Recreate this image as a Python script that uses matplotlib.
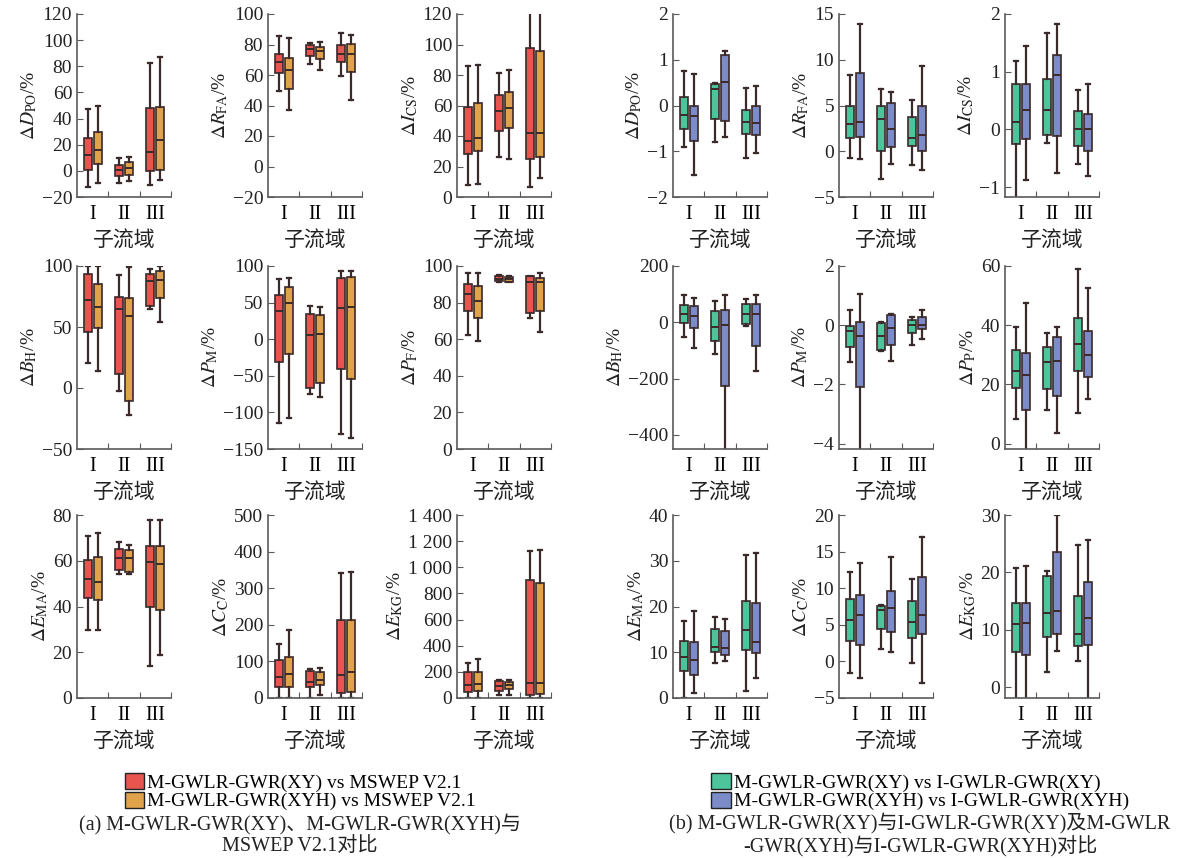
import matplotlib.pyplot as plt
from matplotlib.patches import Patch
from matplotlib.ticker import FuncFormatter

plt.rcParams['font.family'] = ['Liberation Serif', 'Noto Sans CJK SC']
plt.rcParams['mathtext.fontset'] = 'stix'

# ───────────────────────────────
# data: (whislo, q1, med, q3, whishi) for sub-basins I, II, III
groups = ['I', 'II', 'III']

# (a) M-GWLR-GWR vs MSWEP V2.1
dpo_xy = [(-12, 1, 12, 25, 47.6), (-9, -4, 0.3, 4.6, 10), (-10.5, 0, 14.3, 48, 82.5)]
dpo_xyh = [(-9.4, 5.6, 16, 30, 50), (-8, -2.8, 2.3, 7, 10.5), (-7, 1, 23.4, 48.7, 87)]
rfa_xy = [(49.3, 61.5, 68.3, 74, 85.5), (67.5, 72.5, 77, 80, 81), (59.5, 68.3, 73.6, 80, 87.7)]
rfa_xyh = [(37, 50.9, 63.4, 71, 84), (63.4, 70.3, 76, 78.4, 81.5), (43.6, 61.7, 73.6, 80.6, 86)]
ics_xy = [(7.6, 28.4, 36.7, 59, 86), (26.4, 43.2, 56.3, 67, 81), (6.5, 25, 42, 97.4, 125)]
ics_xyh = [(8.3, 30, 38.9, 61.6, 86.7), (25, 45, 58.5, 68.8, 83), (12.6, 26, 42, 95.6, 125)]
bh_xy = [(20.5, 45.5, 72.3, 93.5, 100), (-2.7, 11.7, 64.6, 75, 92.7), (65, 67.4, 88, 93.5, 97.6)]
bh_xyh = [(14, 49, 66, 85, 100), (-21.8, -11, 59, 73.6, 99), (54.5, 73.6, 88.6, 96, 100)]
pm_xy = [(-114.5, -31.8, 38.6, 60.5, 81.8), (-74.5, -66.8, 6, 34.5, 46), (-129.5, -41, 43, 83, 93.6)]
pm_xyh = [(-107.7, -20.5, 50, 71, 83), (-79.5, -60, 7.3, 33, 44.5), (-135, -54.5, 44.5, 84.5, 93.6)]
pf_xy = [(62.4, 75.6, 84.5, 90.2, 96), (91.5, 92, 93, 94.5, 95), (71.5, 74.5, 91, 94.5, 94.6)]
pf_xyh = [(59, 71.5, 81, 89, 96), (91, 91.3, 92.7, 94, 94.6), (64, 75.5, 91, 93.3, 96)]
ema_xy = [(29.8, 43.5, 51.9, 60.3, 71), (54.2, 55.8, 61.2, 65, 68.2), (14, 39.6, 59.5, 66.3, 78)]
ema_xyh = [(29.8, 42.7, 50.8, 61.7, 72), (54.2, 55, 61.2, 64.5, 67), (19, 38.5, 58.4, 66.3, 78)]
cc_xy = [(0, 30, 57, 104.5, 148), (0, 30, 43.6, 72.7, 80), (0, 13.6, 63.6, 212, 342)]
cc_xyh = [(0, 30, 64.5, 112, 185), (7, 36, 48, 71, 82), (0, 16, 71, 212, 345)]
ekg_xy = [(0, 46, 96, 197, 268), (20, 51, 89, 127, 134), (0, 25, 114, 906, 1122)]
ekg_xyh = [(0, 51, 109, 202, 299), (25, 66, 96, 122, 134), (0, 33, 114, 876, 1134)]

# (b) M-GWLR-GWR vs I-GWLR-GWR
dpo_m_xy = [(-0.9, -0.52, -0.2, 0.18, 0.76), (-0.79, -0.3, 0.36, 0.47, 0.49), (-1.14, -0.63, -0.36, -0.09, 0.39)]
dpo_m_xyh = [(-1.53, -0.78, -0.23, 0.0, 0.68), (-0.69, -0.34, 0.51, 1.11, 1.2), (-1.03, -0.65, -0.39, -0.01, 0.42)]
rfa_m_xy = [(-0.73, 1.45, 3, 5, 8.3), (-3, 0.07, 3.56, 5, 6.8), (-1.45, 0.55, 1.5, 3.7, 5.6)]
rfa_m_xyh = [(-0.9, 1.6, 3.2, 8.55, 13.9), (-1.4, 0.44, 2.4, 5.3, 6.5), (-2, 0, 1.75, 5, 9.3)]
ics_m_xy = [(-1.3, -0.26, 0.13, 0.79, 1.18), (-0.23, -0.1, 0.34, 0.88, 1.67), (-0.6, -0.28, 0.01, 0.32, 0.69)]
ics_m_xyh = [(-0.88, -0.16, 0.34, 0.79, 1.45), (-0.75, -0.12, 0.94, 1.29, 1.82), (-0.8, -0.38, 0, 0.26, 0.79)]
bh_m_xy = [(-50.6, -3.5, 29, 62, 97.6), (-112, -68, -15, 38.8, 76.5), (-12, -6, 29.4, 64.7, 82)]
bh_m_xyh = [(-92, -21, 22, 59, 88), (-470, -227, -8, 43.5, 97.6), (-174, -85, 29.4, 64.7, 97.6)]
pm_m_xy = [(-1.24, -0.72, -0.2, -0.01, 0.53), (-0.87, -0.83, -0.38, 0.09, 0.12), (-0.66, -0.25, 0, 0.19, 0.29)]
pm_m_xyh = [(-4.5, -2.08, -0.35, 0.1, 1.05), (-1.22, -0.67, -0.11, 0.36, 0.38), (-0.46, -0.12, 0.01, 0.27, 0.51)]
pf_m_xy = [(8.3, 18.9, 24.7, 31.5, 39.4), (11.5, 18.5, 27.5, 32.5, 37.5), (10.5, 24.5, 33.5, 42.5, 59)]
pf_m_xyh = [(-3, 11.3, 23.2, 30.6, 47.5), (3.5, 16, 28, 36, 39.5), (15, 22.5, 30, 38, 52.5)]
ema_m_xy = [(0, 5.9, 8.9, 12.5, 16.9), (7.7, 10, 11.1, 15.1, 17.8), (1.5, 10.4, 14.9, 21.3, 31.2)]
ema_m_xyh = [(1.1, 5.1, 8.3, 12.2, 19), (8, 9.3, 10.9, 14.6, 17.2), (4.3, 9.9, 12.3, 20.8, 31.6)]
cc_m_xy = [(-1.6, 2.8, 5.7, 8.5, 12.2), (1.7, 4.4, 7.0, 7.6, 7.7), (-0.2, 3.2, 5.35, 8.3, 11.3)]
cc_m_xyh = [(-2.3, 2.3, 6.3, 9.1, 13.5), (1.3, 4.0, 7.3, 9.6, 14.3), (-3, 3.8, 6.35, 11.5, 17)]
ekg_m_xy = [(-3, 6.2, 11, 14.6, 20.8), (2.7, 8.7, 13, 19.3, 20.2), (4.6, 7.2, 9.3, 15.9, 24.7)]
ekg_m_xyh = [(-3, 5.6, 11.2, 14.6, 21.1), (6.3, 9.3, 13.3, 23.5, 30), (-3, 7.4, 12, 18.3, 25.7)]

# ───────────────────────────────
# style
RED, ORANGE = '#E8554F', '#E0A24A'
GREEN, BLUE = '#4EC49C', '#7B8CC8'
EDGE = '#3B2A2A'
AXC = '#5A5A5A'
TXT = '#222222'

fig = plt.figure(figsize=(12, 8.58), dpi=100)

col_x = [77, 268, 457, 673, 839, 1005]
row_y = [14, 266, 515]
W, H = 94, 183


def make_ax(r, c):
    x0 = col_x[c] / 1200
    y0 = 1 - (row_y[r] + H) / 858
    return fig.add_axes([x0, y0, W / 1200, H / 858])


def draw(ax, s1, s2, c1, c2, ylabel, ylim, yticks, fmt=None):
    for data, off, col in ((s1, -0.16, c1), (s2, 0.16, c2)):
        stats = [dict(whislo=d[0], q1=d[1], med=d[2], q3=d[3], whishi=d[4]) for d in data]
        ax.bxp(stats, positions=[i + 1 + off for i in range(len(data))], widths=0.25,
               showfliers=False, patch_artist=True, manage_ticks=False,
               boxprops=dict(facecolor=col, edgecolor=EDGE, linewidth=1.2),
               medianprops=dict(color=EDGE, linewidth=1.4),
               whiskerprops=dict(color=EDGE, linewidth=1.6),
               capprops=dict(color=EDGE, linewidth=1.6))
    ax.set_xlim(0.5, 3.5)
    ax.set_ylim(*ylim)
    ax.set_yticks(yticks)
    if fmt:
        ax.yaxis.set_major_formatter(FuncFormatter(fmt))
    ax.set_xticks([1.5, 2.5, 3.5])
    ax.set_xticklabels([])
    ax.set_xticks([1, 2, 3], minor=True)
    ax.set_xticklabels(groups, minor=True)
    ax.tick_params(axis='x', which='minor', length=0, labelsize=14.5, pad=6)
    ax.tick_params(axis='both', which='major', direction='in', length=4, color=AXC,
                   labelsize=14, labelcolor=TXT)
    for s in ('top', 'right'):
        ax.spines[s].set_visible(False)
    for s in ('left', 'bottom'):
        ax.spines[s].set_color(AXC)
        ax.spines[s].set_linewidth(1.2)
    ax.set_ylabel(ylabel, fontsize=14, labelpad=2, color=TXT)
    ax.set_xlabel('子流域', fontsize=15, labelpad=5, color=TXT)


def thousands(v, pos):
    v = int(round(v))
    return f'{v // 1000} {v % 1000:03d}' if v >= 1000 else str(v)


def rng(a, b, s):
    out, v = [], a
    while v <= b + 1e-9:
        out.append(v)
        v += s
    return out


# (a) panels
draw(make_ax(0, 0), dpo_xy, dpo_xyh, RED, ORANGE, r'$\Delta D_{\rm PO}$/%', (-20, 120), rng(-20, 120, 20))
draw(make_ax(0, 1), rfa_xy, rfa_xyh, RED, ORANGE, r'$\Delta R_{\rm FA}$/%', (-20, 100), rng(-20, 100, 20))
draw(make_ax(0, 2), ics_xy, ics_xyh, RED, ORANGE, r'$\Delta I_{\rm CS}$/%', (0, 120), rng(0, 120, 20))
draw(make_ax(1, 0), bh_xy, bh_xyh, RED, ORANGE, r'$\Delta B_{\rm H}$/%', (-50, 100), rng(-50, 100, 50))
draw(make_ax(1, 1), pm_xy, pm_xyh, RED, ORANGE, r'$\Delta P_{\rm M}$/%', (-150, 100), rng(-150, 100, 50))
draw(make_ax(1, 2), pf_xy, pf_xyh, RED, ORANGE, r'$\Delta P_{\rm F}$/%', (0, 100), rng(0, 100, 20))
draw(make_ax(2, 0), ema_xy, ema_xyh, RED, ORANGE, r'$\Delta E_{\rm MA}$/%', (0, 80), rng(0, 80, 20))
draw(make_ax(2, 1), cc_xy, cc_xyh, RED, ORANGE, r'$\Delta C_{\rm C}$/%', (0, 500), rng(0, 500, 100))
draw(make_ax(2, 2), ekg_xy, ekg_xyh, RED, ORANGE, r'$\Delta E_{\rm KG}$/%', (0, 1400), rng(0, 1400, 200), thousands)

# (b) panels
draw(make_ax(0, 3), dpo_m_xy, dpo_m_xyh, GREEN, BLUE, r'$\Delta D_{\rm PO}$/%', (-2, 2), rng(-2, 2, 1))
draw(make_ax(0, 4), rfa_m_xy, rfa_m_xyh, GREEN, BLUE, r'$\Delta R_{\rm FA}$/%', (-5, 15), rng(-5, 15, 5))
draw(make_ax(0, 5), ics_m_xy, ics_m_xyh, GREEN, BLUE, r'$\Delta I_{\rm CS}$/%', (-1.17, 2), rng(-1, 2, 1))
draw(make_ax(1, 3), bh_m_xy, bh_m_xyh, GREEN, BLUE, r'$\Delta B_{\rm H}$/%', (-450, 200), rng(-400, 200, 200))
draw(make_ax(1, 4), pm_m_xy, pm_m_xyh, GREEN, BLUE, r'$\Delta P_{\rm M}$/%', (-4.18, 2), rng(-4, 2, 2))
draw(make_ax(1, 5), pf_m_xy, pf_m_xyh, GREEN, BLUE, r'$\Delta P_{\rm P}$/%', (-1.8, 60), rng(0, 60, 20))
draw(make_ax(2, 3), ema_m_xy, ema_m_xyh, GREEN, BLUE, r'$\Delta E_{\rm MA}$/%', (0, 40), rng(0, 40, 10))
draw(make_ax(2, 4), cc_m_xy, cc_m_xyh, GREEN, BLUE, r'$\Delta C_{\rm C}$/%', (-5, 20), rng(-5, 20, 5))
draw(make_ax(2, 5), ekg_m_xy, ekg_m_xyh, GREEN, BLUE, r'$\Delta E_{\rm KG}$/%', (-1.9, 30), rng(0, 30, 10))

# ───────────────────────────────
# legends and captions
leg_kw = dict(frameon=False, fontsize=14, handlelength=1.0, handleheight=0.9,
              handletextpad=0.15, labelspacing=0.0, borderpad=0)
fig.legend(handles=[Patch(facecolor=RED, edgecolor=TXT, label='M-GWLR-GWR(XY) vs MSWEP V2.1'),
                    Patch(facecolor=ORANGE, edgecolor=TXT, label='M-GWLR-GWR(XYH) vs MSWEP V2.1')],
           loc='upper center', bbox_to_anchor=(300 / 1200, 1 - 763 / 858), **leg_kw)
fig.legend(handles=[Patch(facecolor=GREEN, edgecolor=TXT, label='M-GWLR-GWR(XY) vs I-GWLR-GWR(XY)'),
                    Patch(facecolor=BLUE, edgecolor=TXT, label='M-GWLR-GWR(XYH) vs I-GWLR-GWR(XYH)')],
           loc='upper center', bbox_to_anchor=(920 / 1200, 1 - 763 / 858), **leg_kw)

fig.text(300 / 1200, 1 - 835 / 858, '(a) M-GWLR-GWR(XY)、M-GWLR-GWR(XYH)与\nMSWEP V2.1对比',
         ha='center', va='center', fontsize=14.5, linespacing=1.15, color=TXT)
fig.text(920 / 1200, 1 - 835 / 858, '(b) M-GWLR-GWR(XY)与I-GWLR-GWR(XY)及M-GWLR\n-GWR(XYH)与I-GWLR-GWR(XYH)对比',
         ha='center', va='center', fontsize=14.5, linespacing=1.15, color=TXT)

fig.savefig('out.png', dpi=100)
